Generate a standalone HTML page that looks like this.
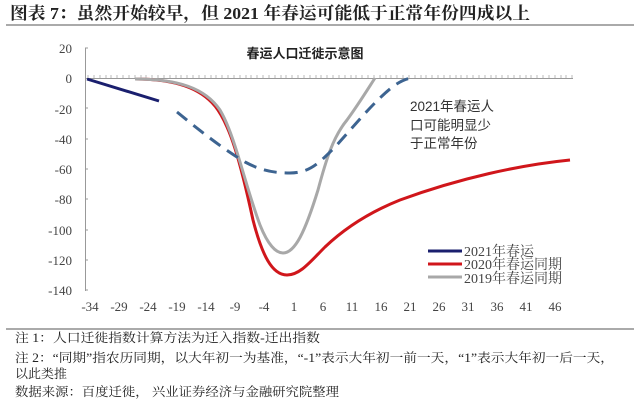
<!DOCTYPE html>
<html><head><meta charset="utf-8"><style>
body{margin:0;background:#fff;width:640px;height:400px;overflow:hidden;font-family:"Liberation Serif","Noto Serif CJK SC",serif;}
</style></head><body>
<svg width="640" height="400" xmlns="http://www.w3.org/2000/svg" style="position:absolute;left:0;top:0">
<text x="10" y="19" font-size="17" font-weight="bold" fill="#222" textLength="520" lengthAdjust="spacingAndGlyphs" font-family="Liberation Serif, Noto Serif CJK SC, serif">图表 7：虽然开始较早，但 2021 年春运可能低于正常年份四成以上</text>
<line x1="6" y1="25" x2="634" y2="25" stroke="#555" stroke-width="1"/>
<text x="305" y="58" font-size="13" font-weight="bold" text-anchor="middle" fill="#222" font-family="Liberation Sans, Noto Sans CJK SC, sans-serif">春运人口迁徙示意图</text>
<g font-size="13" fill="#444" text-anchor="end" font-family="Liberation Serif, serif">
<text x="72" y="53">20</text><text x="72" y="83">0</text><text x="72" y="114">-20</text><text x="72" y="144">-40</text><text x="72" y="174">-60</text><text x="72" y="204">-80</text><text x="72" y="235">-100</text><text x="72" y="265">-120</text><text x="72" y="295">-140</text>
</g>
<line x1="85.5" y1="48" x2="85.5" y2="291" stroke="#999"/>
<g stroke="#999"><line x1="85" y1="48" x2="88" y2="48"/><line x1="85" y1="108" x2="88" y2="108"/><line x1="85" y1="139" x2="88" y2="139"/><line x1="85" y1="169" x2="88" y2="169"/><line x1="85" y1="199" x2="88" y2="199"/><line x1="85" y1="230" x2="88" y2="230"/><line x1="85" y1="260" x2="88" y2="260"/><line x1="85" y1="290" x2="88" y2="290"/></g>
<line x1="85" y1="78.5" x2="573" y2="78.5" stroke="#999"/>
<g font-size="13" fill="#444" text-anchor="middle" font-family="Liberation Serif, serif">
<text x="90" y="311">-34</text><text x="119" y="311">-29</text><text x="148" y="311">-24</text><text x="177" y="311">-19</text><text x="206" y="311">-14</text><text x="235" y="311">-9</text><text x="264" y="311">-4</text><text x="294" y="311">1</text><text x="323" y="311">6</text><text x="352" y="311">11</text><text x="381" y="311">16</text><text x="410" y="311">21</text><text x="439" y="311">26</text><text x="468" y="311">31</text><text x="497" y="311">36</text><text x="526" y="311">41</text><text x="555" y="311">46</text>
</g>
<path d="M87,79 L159,101" stroke="#1a1f6e" stroke-width="3" fill="none"/>
<path d="M135,79 C175,79 200,88 215,106 C230,125 240,160 253,220 C262,255 272,275 287,275 C300,275 310,262 325,247 C345,228 370,212 400,200 C460,178 520,165 570,160" stroke="#d0161b" stroke-width="3" fill="none"/>
<path d="M135,79 C178,79 205,88 220,110 C235,135 245,185 260,225 C268,245 276,253 283,253 C295,253 305,232 318,190 C326,160 333,137 347,120 C358,105 366,92 375,78" stroke="#a8a8a8" stroke-width="3" fill="none"/>
<path d="M177,112 C205,135 225,150 245,162 C260,170 272,173 290,173 C310,173 320,162 335,147 C355,125 375,100 395,85 C403,80 408,78 414,78" stroke="#3d6491" stroke-width="3" stroke-dasharray="13,8" fill="none"/>
<g font-size="13.5" fill="#333" font-family="Liberation Sans, Noto Sans CJK SC, sans-serif">
<text x="410" y="111">2021年春运人</text><text x="410" y="130">口可能明显少</text><text x="410" y="148">于正常年份</text>
</g>
<line x1="428" y1="251" x2="462" y2="251" stroke="#1a1f6e" stroke-width="3"/>
<line x1="428" y1="264" x2="462" y2="264" stroke="#d0161b" stroke-width="3"/>
<line x1="428" y1="277" x2="462" y2="277" stroke="#a8a8a8" stroke-width="3"/>
<g font-size="14" fill="#444" font-family="Liberation Serif, Noto Serif CJK SC, serif">
<text x="464" y="256">2021年春运</text><text x="464" y="269">2020年春运同期</text><text x="464" y="283">2019年春运同期</text>
</g>
<line x1="6" y1="329" x2="634" y2="329" stroke="#555"/>
<g font-size="12.5" fill="#222" font-family="Liberation Serif, Noto Serif CJK SC, serif">
<text x="15" y="342" textLength="305" lengthAdjust="spacingAndGlyphs">注 1：人口迁徙指数计算方法为迁入指数-迁出指数</text>
<text x="15" y="362" textLength="599" lengthAdjust="spacingAndGlyphs">注 2：“同期”指农历同期，以大年初一为基准，“-1”表示大年初一前一天，“1”表示大年初一后一天，</text>
<text x="15" y="378" textLength="52" lengthAdjust="spacingAndGlyphs">以此类推</text>
<text x="15" y="396" textLength="324" lengthAdjust="spacingAndGlyphs">数据来源：百度迁徙， 兴业证券经济与金融研究院整理</text>
</g>
</svg>
<svg width="640" height="400" style="position:absolute;left:0;top:0">
<g stroke="#aaa" stroke-width="0.8">
<line x1="88" y1="75" x2="88" y2="78"/><line x1="94" y1="75" x2="94" y2="78"/><line x1="100" y1="75" x2="100" y2="78"/><line x1="106" y1="75" x2="106" y2="78"/><line x1="111" y1="75" x2="111" y2="78"/><line x1="117" y1="75" x2="117" y2="78"/><line x1="123" y1="75" x2="123" y2="78"/><line x1="129" y1="75" x2="129" y2="78"/><line x1="135" y1="75" x2="135" y2="78"/><line x1="141" y1="75" x2="141" y2="78"/><line x1="146" y1="75" x2="146" y2="78"/><line x1="152" y1="75" x2="152" y2="78"/><line x1="158" y1="75" x2="158" y2="78"/><line x1="164" y1="75" x2="164" y2="78"/><line x1="170" y1="75" x2="170" y2="78"/><line x1="176" y1="75" x2="176" y2="78"/><line x1="181" y1="75" x2="181" y2="78"/><line x1="187" y1="75" x2="187" y2="78"/><line x1="193" y1="75" x2="193" y2="78"/><line x1="199" y1="75" x2="199" y2="78"/><line x1="205" y1="75" x2="205" y2="78"/><line x1="211" y1="75" x2="211" y2="78"/><line x1="216" y1="75" x2="216" y2="78"/><line x1="222" y1="75" x2="222" y2="78"/><line x1="228" y1="75" x2="228" y2="78"/><line x1="234" y1="75" x2="234" y2="78"/><line x1="240" y1="75" x2="240" y2="78"/><line x1="246" y1="75" x2="246" y2="78"/><line x1="251" y1="75" x2="251" y2="78"/><line x1="257" y1="75" x2="257" y2="78"/><line x1="263" y1="75" x2="263" y2="78"/><line x1="269" y1="75" x2="269" y2="78"/><line x1="275" y1="75" x2="275" y2="78"/><line x1="281" y1="75" x2="281" y2="78"/><line x1="286" y1="75" x2="286" y2="78"/><line x1="292" y1="75" x2="292" y2="78"/><line x1="298" y1="75" x2="298" y2="78"/><line x1="304" y1="75" x2="304" y2="78"/><line x1="310" y1="75" x2="310" y2="78"/><line x1="316" y1="75" x2="316" y2="78"/><line x1="321" y1="75" x2="321" y2="78"/><line x1="327" y1="75" x2="327" y2="78"/><line x1="333" y1="75" x2="333" y2="78"/><line x1="339" y1="75" x2="339" y2="78"/><line x1="345" y1="75" x2="345" y2="78"/><line x1="351" y1="75" x2="351" y2="78"/><line x1="356" y1="75" x2="356" y2="78"/><line x1="362" y1="75" x2="362" y2="78"/><line x1="368" y1="75" x2="368" y2="78"/><line x1="374" y1="75" x2="374" y2="78"/><line x1="380" y1="75" x2="380" y2="78"/><line x1="386" y1="75" x2="386" y2="78"/><line x1="391" y1="75" x2="391" y2="78"/><line x1="397" y1="75" x2="397" y2="78"/><line x1="403" y1="75" x2="403" y2="78"/><line x1="409" y1="75" x2="409" y2="78"/><line x1="415" y1="75" x2="415" y2="78"/><line x1="421" y1="75" x2="421" y2="78"/><line x1="426" y1="75" x2="426" y2="78"/><line x1="432" y1="75" x2="432" y2="78"/><line x1="438" y1="75" x2="438" y2="78"/><line x1="444" y1="75" x2="444" y2="78"/><line x1="450" y1="75" x2="450" y2="78"/><line x1="456" y1="75" x2="456" y2="78"/><line x1="461" y1="75" x2="461" y2="78"/><line x1="467" y1="75" x2="467" y2="78"/><line x1="473" y1="75" x2="473" y2="78"/><line x1="479" y1="75" x2="479" y2="78"/><line x1="485" y1="75" x2="485" y2="78"/><line x1="491" y1="75" x2="491" y2="78"/><line x1="496" y1="75" x2="496" y2="78"/><line x1="502" y1="75" x2="502" y2="78"/><line x1="508" y1="75" x2="508" y2="78"/><line x1="514" y1="75" x2="514" y2="78"/><line x1="520" y1="75" x2="520" y2="78"/><line x1="526" y1="75" x2="526" y2="78"/><line x1="531" y1="75" x2="531" y2="78"/><line x1="537" y1="75" x2="537" y2="78"/><line x1="543" y1="75" x2="543" y2="78"/><line x1="549" y1="75" x2="549" y2="78"/><line x1="555" y1="75" x2="555" y2="78"/><line x1="561" y1="75" x2="561" y2="78"/><line x1="566" y1="75" x2="566" y2="78"/><line x1="572" y1="75" x2="572" y2="78"/>
</g>
</svg>
</body></html>
